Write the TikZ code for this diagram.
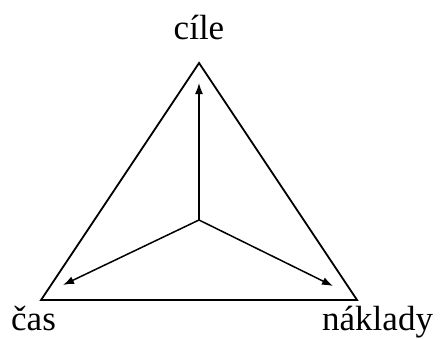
\documentclass[tikz,border=0pt]{standalone}
\usepackage{fontspec}
\setmainfont{Liberation Serif}
\usetikzlibrary{arrows.meta}
\tikzset{
  edge/.style={line width=1.8pt, line join=miter},
  arr/.style={line width=1.5pt, -{Latex[length=11pt,width=8pt]}},
  lbl/.style={inner sep=0pt, font=\fontsize{35}{40}\selectfont}
}
\begin{document}
\begin{tikzpicture}[x=1pt,y=1pt]
\useasboundingbox (0,0) rectangle (441,338);
\coordinate (A) at (199,275);
\coordinate (B) at (41,38);
\coordinate (C) at (357,38);
\coordinate (O) at (199,118);
\coordinate (tA) at (199,255);
\coordinate (tB) at (63,53);
\coordinate (tC) at (333,52);
\draw[edge] (A) -- (B) -- (C) -- cycle;
\draw[arr] (O) -- (tA);
\draw[arr] (O) -- (tB);
\draw[arr] (O) -- (tC);
\node[lbl, anchor=base] (cile) at (199,298) {cíle};
\node[lbl, anchor=base west] (cas) at (11,8) {čas};
\node[lbl, anchor=base west] (naklady) at (322,8) {náklady};
\end{tikzpicture}
\end{document}
